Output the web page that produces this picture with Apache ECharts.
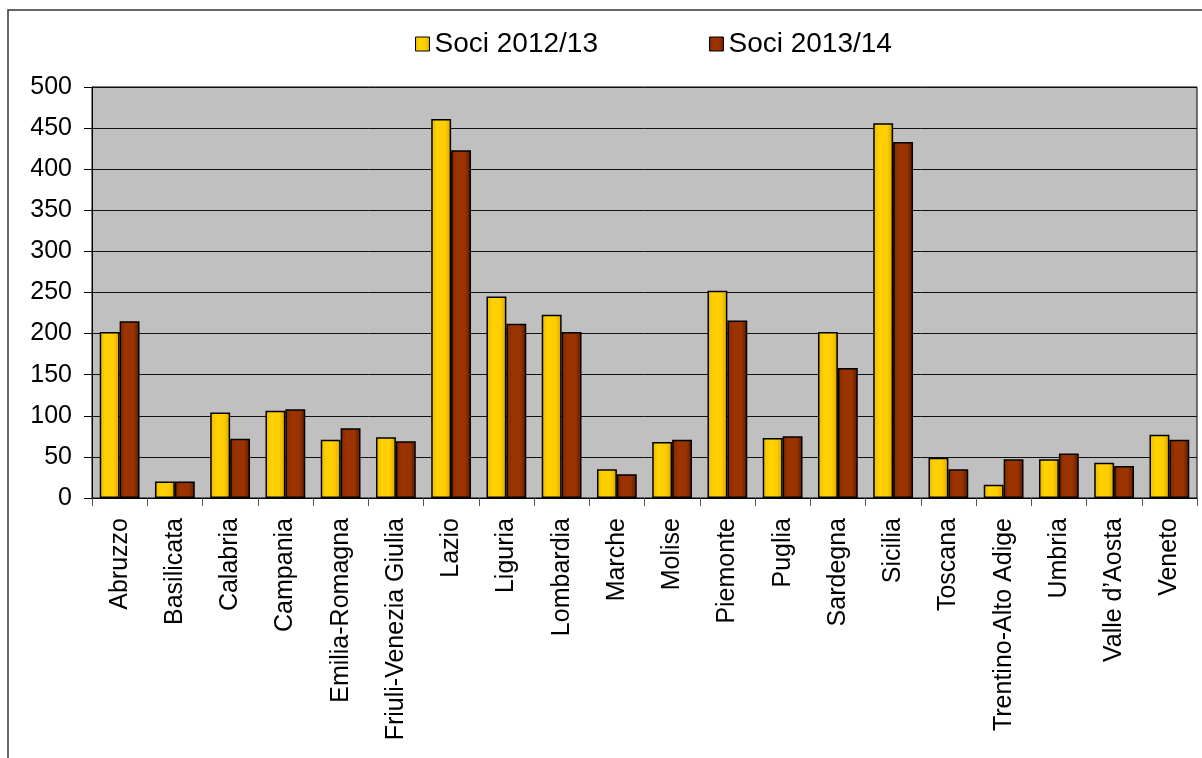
<!DOCTYPE html>
<html>
<head>
<meta charset="utf-8">
<script src="https://cdn.jsdelivr.net/npm/echarts@6/dist/echarts.min.js"></script>
<style>
html,body{margin:0;padding:0;background:#fff;}
#chart{width:1202px;height:758px;}
</style>
</head>
<body>
<div id="chart"></div>
<script>
const categories = ["Abruzzo","Basilicata","Calabria","Campania","Emilia-Romagna","Friuli-Venezia Giulia","Lazio","Liguria","Lombardia","Marche","Molise","Piemonte","Puglia","Sardegna","Sicilia","Toscana","Trentino-Alto Adige","Umbria","Valle d’Aosta","Veneto"];
const soci2012 = [202,20,104,106,71,74,461,245,223,35,68,252,73,202,456,49,16,47,43,77];
const soci2013 = [215,20,72,108,85,69,423,212,202,29,71,216,75,158,433,35,47,54,39,71];
const seriesNames = ["Soci 2012/13","Soci 2013/14"];

const FONT = '"Liberation Sans", Arial, sans-serif';
const yellowGrad = new echarts.graphic.LinearGradient(0,0,1,0,[
  {offset:0,color:'#E9B900'},{offset:0.3,color:'#FFD200'},{offset:0.7,color:'#FFCC00'},{offset:1,color:'#D6A600'}]);
const redGrad = new echarts.graphic.LinearGradient(0,0,1,0,[
  {offset:0,color:'#7E2800'},{offset:0.3,color:'#9C3400'},{offset:0.7,color:'#993300'},{offset:1,color:'#5C1A00'}]);

const chart = echarts.init(document.getElementById('chart'));
chart.setOption({
  animation:false,
  backgroundColor:'#ffffff',
  graphic:[{type:'rect',z:-1,shape:{x:8,y:10,width:1400,height:1000},style:{fill:'none',stroke:'#333',lineWidth:1.5}}],
  legend:{
    left:410, top:25, itemWidth:14, itemHeight:14, itemGap:111, icon:'rect',
    textStyle:{fontFamily:FONT,fontSize:28,color:'#000'},
    itemStyle:{borderColor:'#000',borderWidth:1},
    data:seriesNames
  },
  grid:{left:92,top:87,right:5,bottom:260,show:true,backgroundColor:'#C0C0C0',borderColor:'#000',borderWidth:1},
  xAxis:{
    type:'category', data:categories, boundaryGap:true,
    axisLine:{lineStyle:{color:'#000',width:1}},
    axisTick:{show:true,length:8,lineStyle:{color:'#555'},alignWithLabel:false},
    axisLabel:{rotate:90,margin:20,fontFamily:FONT,fontSize:25,color:'#000',interval:0}
  },
  yAxis:{
    type:'value', min:0, max:500, interval:50,
    axisLine:{show:true,lineStyle:{color:'#000'}},
    axisTick:{show:true,length:8,lineStyle:{color:'#000'}},
    axisLabel:{margin:20,fontFamily:FONT,fontSize:25,color:'#000'},
    splitLine:{show:true,lineStyle:{color:'#111',width:1}}
  },
  series:[
    {name:seriesNames[0],type:'bar',data:soci2012,barGap:'0%',barCategoryGap:'28%',
     itemStyle:{color:yellowGrad,borderColor:'#000',borderWidth:1.5}},
    {name:seriesNames[1],type:'bar',data:soci2013,barGap:'0%',barCategoryGap:'28%',
     itemStyle:{color:redGrad,borderColor:'#000',borderWidth:1.5}}
  ]
});
</script>
</body>
</html>
